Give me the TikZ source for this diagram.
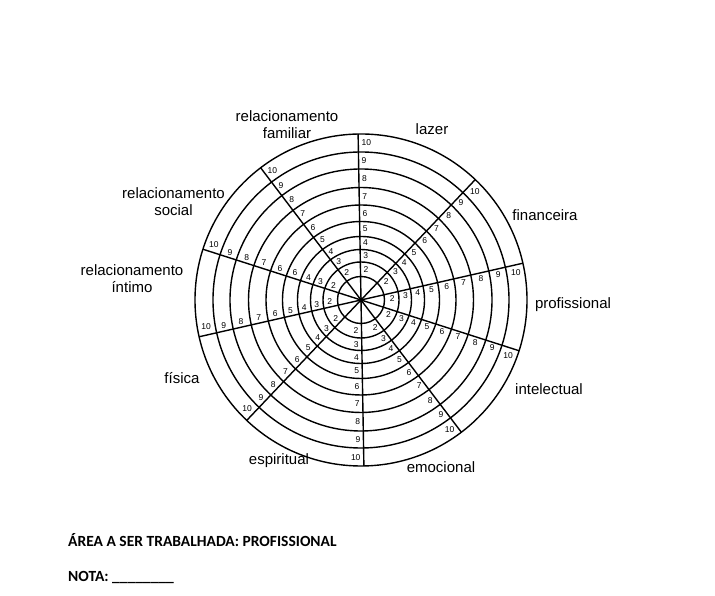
\documentclass[tikz,border=0pt]{standalone}
\usepackage{fontspec}
\setmainfont{Liberation Sans}
\newfontfamily\calibri{Carlito}
\begin{document}
\begin{tikzpicture}[x=1pt,y=1pt,
  wheel/.style={line width=1.4pt,black},
  num/.style={inner sep=0pt,font=\fontsize{8.5}{9}\selectfont},
  area/.style={inner sep=0pt,align=center,font=\fontsize{15}{17}\selectfont},
  foot/.style={inner sep=0pt,anchor=west,font=\calibri\bfseries\fontsize{15.5}{18}\selectfont}]
\useasboundingbox (0,0) rectangle (715,596);
\fill[white] (0,0) rectangle (715,596);
\coordinate (C) at (361,296);
\begin{scope}[shift={(C)}]
  % concentric circles
  \foreach \r in {23.5,38,50.5,63.5,78.5,95,112.5,131,148,166}
    \draw[wheel] (0,0) circle (\r);
  % spokes
  \foreach \a in {12.8,46.5,91,127.2,162.2}
    \draw[wheel] (\a:166) -- (\a+180:166);
  \fill (0,0) circle (2.6);
  % ring numbers along each spoke (clockwise side)
  \foreach \a [count=\s] in {12.8,46.5,91,127.2,192.8,226.5,271,307.2,342.2}
    \foreach \k/\m in {2/30.75,3/44.25,4/57,5/71,6/86.75,7/103.75,8/121.75,9/139.5,10/157}{
      \pgfmathsetmacro\d{ifthenelse(\k==10,8,5.5)}
      \path (\a:\m) ++(\a-90:\d) node[num] (n\s-\k) {\k};
    }
  \foreach \t/\m [count=\j] in {2/30.75,3/44.25,4/57,6/71,6/86.75,7/103.75,8/121.75,9/139.5,10/157}{
      \pgfmathsetmacro\d{ifthenelse(\t==10,8,5.5)}
      \path (162.2:\m) ++(72.2:\d) node[num] (m\j) {\t};
    }
\end{scope}
% area labels
\node[area] (fam) at (287,471) {relacionamento\\familiar};
\node[area] (laz) at (432,467) {lazer};
\node[area] (soc) at (173.5,394.5) {relacionamento\\social};
\node[area] (fin) at (545,381) {financeira};
\node[area] (int) at (132,317.5) {relacionamento\\íntimo};
\node[area] (pro) at (573,291) {profissional};
\node[area] (fis) at (182,218) {física};
\node[area] (itl) at (549,207) {intelectual};
\node[area] (esp) at (279,135) {espiritual};
\node[area] (emo) at (441,129) {emocional};
% footer
\node[foot] (t1) at (68,56) {ÁREA A SER TRABALHADA: PROFISSIONAL};
\node[foot] (t2) at (68,18) {NOTA: \_\_\_\_\_\_\_\_};
\end{tikzpicture}
\end{document}
